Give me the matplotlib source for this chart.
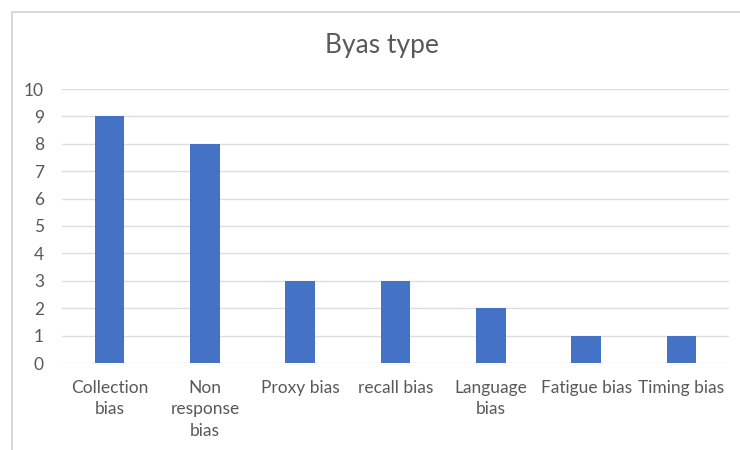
import matplotlib
matplotlib.use("Agg")
import matplotlib.pyplot as plt
from matplotlib.patches import Rectangle

# données du graphique
categories = ["Collection\nbias", "Non\nresponse\nbias", "Proxy bias", "recall bias",
              "Language\nbias", "Fatigue bias", "Timing bias"]
counts = [9, 8, 3, 3, 2, 1, 1]
y_ticks = list(range(0, 11))

plt.rcParams['font.family'] = ['Lato', 'DejaVu Sans']
grey = "#595959"

fig = plt.figure(figsize=(7.4, 4.5), dpi=100)
ax = fig.add_axes([62/740, 87/450, 667/740, 274/450])

# cadre du graphique (bord de la capture)
fig.patches.append(Rectangle((12/740, -0.1), 1.2, (450-12)/450 + 0.1,
                             transform=fig.transFigure, fill=False,
                             edgecolor="#d0d0d0", linewidth=1.2))

x = range(len(categories))
ax.bar(x, counts, width=0.31, color="#4472C4", zorder=3)

ax.set_xlim(-0.5, len(categories) - 0.5)
ax.set_ylim(0, 10)
ax.set_yticks(y_ticks)
ax.set_xticks(list(x))
ax.set_xticklabels(categories, color=grey, fontsize=12.5, linespacing=1.42)
ax.tick_params(axis="y", colors=grey, labelsize=12.5, length=0, pad=13)
ax.tick_params(axis="x", length=0, pad=12)
ax.grid(axis="y", color="#dedede", linewidth=1, zorder=0)
for s in ax.spines.values():
    s.set_visible(False)

fig.text(382/740, 1 - 45/450, "Byas type", ha="center", va="center",
         fontsize=19, color=grey)

fig.savefig("out.png", dpi=100)
